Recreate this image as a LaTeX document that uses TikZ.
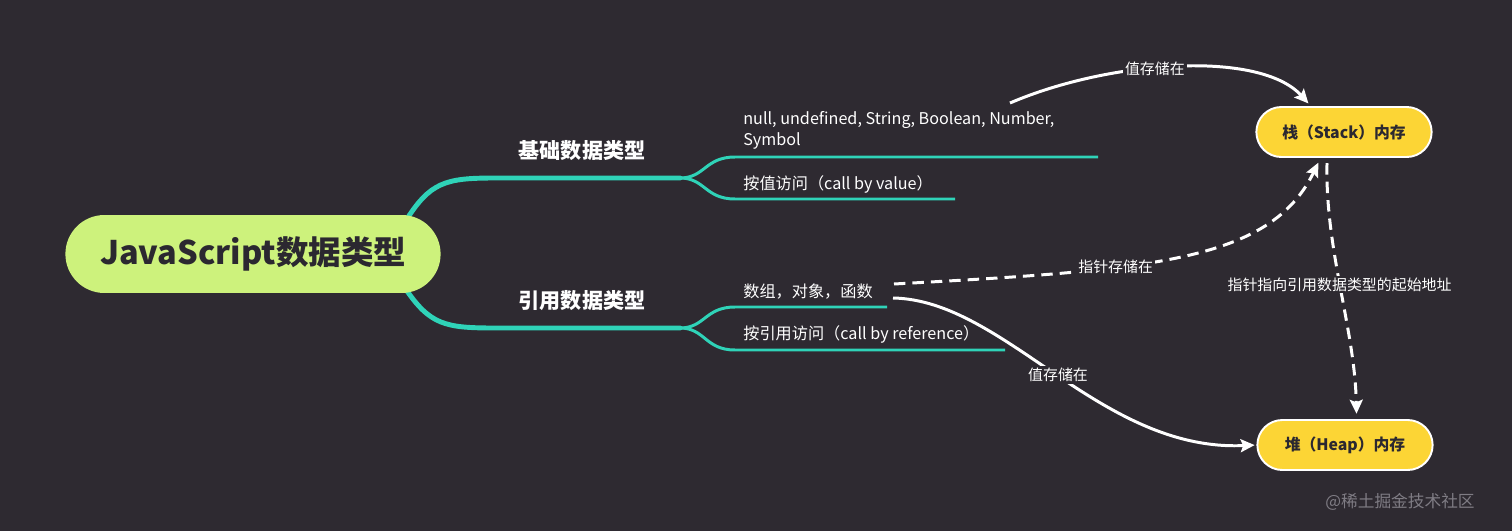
\documentclass[tikz,border=0pt]{standalone}
\usepackage{fontspec}
\setmainfont{Noto Sans CJK SC}
\usepackage{tikz}
\usetikzlibrary{shapes.misc,arrows.meta,calc}
\definecolor{bg}{HTML}{2E2A31}
\definecolor{mmteal}{HTML}{2FD3B8}
\definecolor{rootgreen}{HTML}{CDF27C}
\definecolor{memyellow}{HTML}{FCD535}
\definecolor{ink}{HTML}{2B2830}
\definecolor{wmgray}{HTML}{7F7C84}
\tikzset{
  mainnode/.style={
    shape = rounded rectangle,
    fill = rootgreen,
    text = ink,
    minimum width = 7.74cm,
    minimum height = 1.56cm,
    font = \fontsize{18.5}{20}\selectfont\bfseries
  },
  memnode/.style={
    shape = rounded rectangle,
    draw = white,
    line width = 1.1pt,
    fill = memyellow,
    text = ink,
    minimum width = 3.74cm,
    minimum height = 1.0cm,
    font = \fontsize{9}{11}\selectfont\bfseries
  },
  branchlbl/.style={
    text = white,
    font = \fontsize{12}{14}\selectfont\bfseries
  },
  leaf/.style={
    text = white,
    anchor = west,
    align = left,
    inner sep = 0pt,
    font = \fontsize{9.2}{12}\selectfont
  },
  branch/.style={
    draw = mmteal,
    line width = 2.8pt,
    line cap = round
  },
  twig/.style={
    draw = mmteal,
    line width = 1.7pt
  },
  flow/.style={
    draw = white,
    line width = 1.7pt,
    -{Stealth[length=2.8mm,width=2.6mm,inset=0.5mm]}
  },
  ptr/.style={
    flow,
    dash pattern = on 6.5pt off 4pt
  },
  edgelbl/.style={
    fill = bg,
    text = white,
    inner sep = 1pt,
    font = \fontsize{8.5}{10}\selectfont
  }
}

\begin{document}
\begin{tikzpicture}[x=0.02cm,y=-0.02cm]
  \fill[bg] (0,0) rectangle (1512,531);
  \useasboundingbox (0,0) rectangle (1512,531);

  % mind map branches
  \coordinate (upstart) at (405,222);
  \coordinate (upj) at (680,178);
  \coordinate (lostart) at (405,288);
  \coordinate (loj) at (680,328);
  \draw[branch] (upstart) .. controls (430,182) and (445,178) .. (495,178) -- (upj);
  \draw[branch] (lostart) .. controls (430,325) and (445,328) .. (495,328) -- (loj);
  \draw[twig] (upj) .. controls (705,178) and (705,157) .. (735,157) -- (1098,157);
  \draw[twig] (upj) .. controls (705,178) and (705,199) .. (735,199) -- (955,199);
  \draw[twig] (loj) .. controls (705,328) and (705,307) .. (735,307) -- (887,307);
  \draw[twig] (loj) .. controls (705,328) and (705,350) .. (735,350) -- (1005,350);

  \node[mainnode] (root) at (253,254) {JavaScript数据类型};
  \node[branchlbl] (basic) at (582,151) {基础数据类型};
  \node[branchlbl] (refs) at (582,301) {引用数据类型};

  \node[leaf] (prim) at (743,130) {null, undefined, String, Boolean, Number,\\Symbol};
  \node[leaf] (byval) at (743,184) {按值访问（call by value）};
  \node[leaf] (objs) at (743,292) {数组，对象，函数};
  \node[leaf] (byref) at (743,334) {按引用访问（call by reference）};

  \node[memnode] (stack) at (1344,132) {栈（Stack）内存};
  \node[memnode] (heap) at (1345,445) {堆（Heap）内存};

  % storage arrows
  \coordinate (valstart) at (1010,103);
  \coordinate (ptrstart) at (894,284);
  \coordinate (objstart) at (893,298);
  \draw[flow, shorten >=2pt] (valstart) .. controls (1110,60) and (1260,50) .. (stack.142)
    node[edgelbl, pos=0.43] {值存储在};
  \draw[ptr, shorten >=3pt] (ptrstart) .. controls (1150,270) and (1270,262) .. (stack.228)
    node[edgelbl, pos=0.35] {指针存储在};
  \draw[ptr, shorten <=3pt, shorten >=3pt] (stack.237) .. controls (1325,250) and (1355,330) .. (heap.66)
    node[edgelbl, pos=0.48] {指针指向引用数据类型的起始地址};
  \draw[flow, shorten >=1pt] (objstart) .. controls (1005,300) and (1100,452) .. (heap.west)
    node[edgelbl, pos=0.5] {值存储在};

  \node[text=wmgray, font=\fontsize{9.5}{11}\selectfont] (mark) at (1400,502) {@稀土掘金技术社区};
\end{tikzpicture}
\end{document}
